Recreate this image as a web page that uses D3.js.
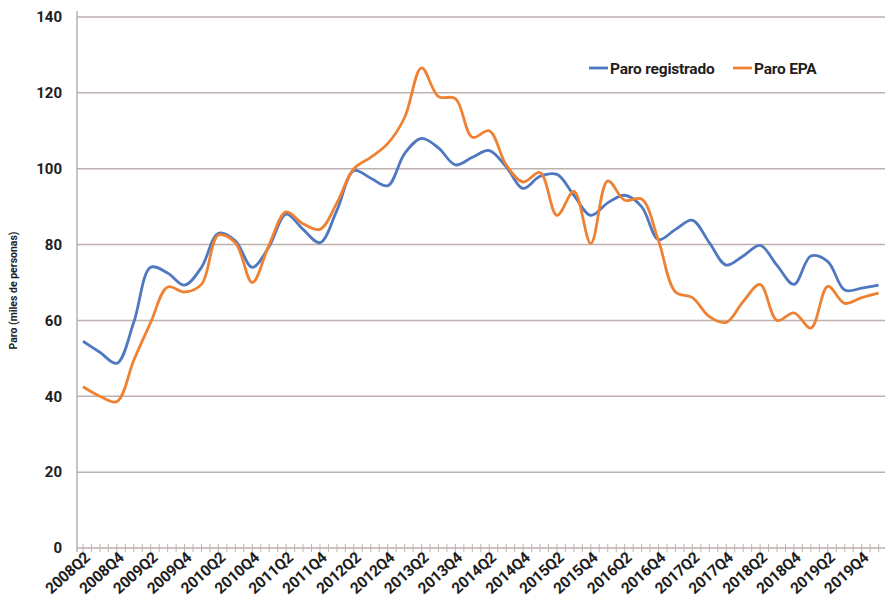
<!DOCTYPE html>
<html>
<head>
<meta charset="utf-8">
<script src="https://cdn.jsdelivr.net/npm/d3@7"></script>
<style>
  body { margin: 0; background: #fff; }
  text { font-family: Roboto, "Liberation Sans", sans-serif; }
</style>
</head>
<body>
<svg width="886" height="609"></svg>
<script>
const width = 886, height = 609;

// quarters 2008Q2 .. 2020Q1
const quarters = [];
for (let y = 2008; y <= 2020; y++) {
  for (let q = 1; q <= 4; q++) {
    if ((y === 2008 && q < 2) || (y === 2020 && q > 1)) continue;
    quarters.push(y + "Q" + q);
  }
}

const paroRegistrado = [
  54.5, 51.6, 48.7, 59.5, 74, 72.5, 69.3, 74, 83, 81, 74, 79.5,
  88, 84, 80.5, 89, 99.5, 97.5, 95.5, 104, 108, 105.5, 101, 103,
  104.8, 100.5, 94.8, 98, 98.5, 93, 87.7, 91, 93, 90, 81.3, 84,
  86.4, 80.5, 74.6, 77, 79.8, 74.5, 69.5, 77, 75.5, 68, 68.5, 69.3
];
const paroEPA = [
  42.5, 40, 38.6, 49.5, 59.5, 68.8, 67.5, 69.5, 82.5, 80.5, 70, 80,
  88.6, 85.5, 84, 91, 100, 103, 106.6, 113.5, 126.6, 119, 118.5, 108.3,
  110, 101, 96.5, 99, 87.7, 94, 80.3, 96.8, 91.7, 92, 81, 67.5,
  66, 61, 59.5, 65, 69.5, 60, 62, 58, 69, 64.5, 66, 67.2
];
const yTicks = [0, 20, 40, 60, 80, 100, 120, 140];
const seriesNames = ["Paro registrado", "Paro EPA"];
const colors = ["#4f78c0", "#ef8133"];

const margin = {top: 17, right: 1, bottom: 61, left: 77};
const plotW = width - margin.left - margin.right;
const plotH = height - margin.top - margin.bottom;

const svg = d3.select("svg");
const g = svg.append("g")
  .attr("transform", `translate(${margin.left}, ${margin.top})`);

const x = d3.scalePoint()
  .domain(quarters)
  .range([6, 801.6]);
const step = x.step();

const y = d3.scaleLinear()
  .domain([0, 140])
  .range([plotH, 0]);

// gridlines
g.append("g")
  .selectAll("line")
  .data(yTicks.filter(d => d > 0))
  .join("line")
  .attr("x1", 0).attr("x2", plotW)
  .attr("y1", d => y(d)).attr("y2", d => y(d))
  .attr("stroke", "#bdb1ad")
  .attr("stroke-width", 1.5);

// y axis line
g.append("line")
  .attr("x1", 0).attr("x2", 0)
  .attr("y1", -6).attr("y2", plotH + 4)
  .attr("stroke", "#bdb1ad")
  .attr("stroke-width", 1.5);

// x axis line
g.append("line")
  .attr("x1", 0).attr("x2", plotW)
  .attr("y1", plotH).attr("y2", plotH)
  .attr("stroke", "#bdb1ad")
  .attr("stroke-width", 1.5);

// x ticks every half quarter
const tickPos = [];
quarters.forEach(q => { tickPos.push(x(q)); tickPos.push(x(q) + step / 2); });
g.append("g")
  .selectAll("line")
  .data(tickPos)
  .join("line")
  .attr("x1", d => d).attr("x2", d => d)
  .attr("y1", plotH - 4).attr("y2", plotH + 4)
  .attr("stroke", "#c2b6b2")
  .attr("stroke-width", 1);

// y tick labels
g.append("g")
  .selectAll("text")
  .data(yTicks)
  .join("text")
  .attr("x", -15)
  .attr("y", d => y(d))
  .attr("dy", "0.35em")
  .attr("text-anchor", "end")
  .attr("font-size", "15px")
  .attr("font-weight", "bold")
  .attr("fill", "#1e1e1e")
  .text(d => d);

// x tick labels (every 2 quarters)
g.append("g")
  .selectAll("text")
  .data(quarters.filter((q, i) => i % 2 === 0 && i < 47))
  .join("text")
  .attr("transform", d => `translate(${x(d) + 8}, ${plotH + 11}) rotate(-42)`)
  .attr("text-anchor", "end")
  .attr("font-size", "15.5px")
  .attr("font-weight", "bold")
  .attr("letter-spacing", "-0.3px")
  .attr("fill", "#1e1e1e")
  .text(d => d);

// y title
svg.append("text")
  .attr("transform", `translate(17, ${margin.top + plotH / 2 + 8}) rotate(-90)`)
  .attr("text-anchor", "middle")
  .attr("font-size", "10.5px")
  .attr("font-weight", "bold")
  .attr("fill", "#1e1e1e")
  .text("Paro (miles de personas)");

// lines
const line = d3.line()
  .x((d, i) => x(quarters[i]))
  .y(d => y(d))
  .curve(d3.curveCatmullRom.alpha(0.5));

[paroRegistrado, paroEPA].forEach((s, k) => {
  g.append("path")
    .datum(s)
    .attr("fill", "none")
    .attr("stroke", colors[k])
    .attr("stroke-width", 2.8)
    .attr("stroke-linejoin", "round")
    .attr("d", line);
});

// legend
const legend = svg.append("g").attr("transform", "translate(589, 68)");
const legX = [0, 144];
seriesNames.forEach((name, k) => {
  const lg = legend.append("g").attr("transform", `translate(${legX[k]}, 0)`);
  lg.append("line")
    .attr("x1", 0).attr("x2", 19)
    .attr("y1", 0).attr("y2", 0)
    .attr("stroke", colors[k])
    .attr("stroke-width", 2.8);
  lg.append("text")
    .attr("x", 21)
    .attr("y", 0)
    .attr("dy", "0.36em")
    .attr("font-size", "15.5px")
    .attr("font-weight", "bold")
    .attr("letter-spacing", "-0.2px")
    .attr("fill", "#1e1e1e")
    .text(name);
});
</script>
</body>
</html>
